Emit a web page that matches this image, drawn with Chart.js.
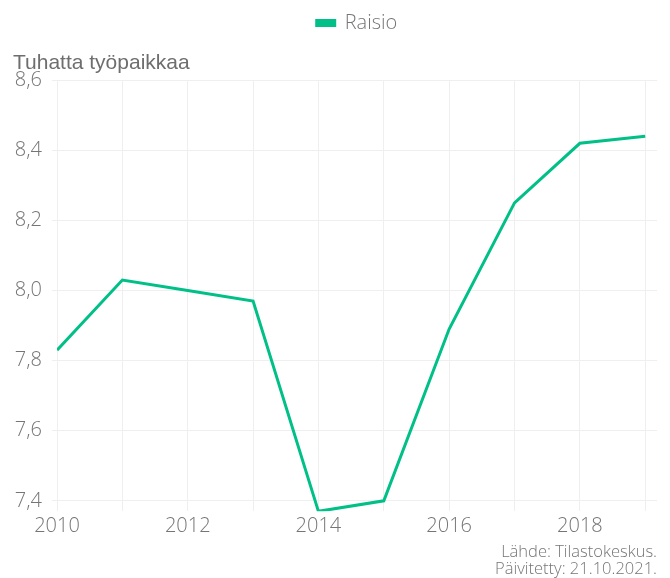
<!DOCTYPE html>
<html>
<head>
<meta charset="utf-8">
<script src="https://cdn.jsdelivr.net/npm/chart.js@4"></script>
<style>
html,body{margin:0;padding:0;background:#fff;}
#wrap{width:670px;height:578px;position:relative;}
</style>
</head>
<body>
<div id="wrap"><canvas id="c"></canvas></div>
<script>
const years = [2010, 2011, 2012, 2013, 2014, 2015, 2016, 2017, 2018, 2019];
const raisio = [7.83, 8.03, 8.00, 7.97, 7.37, 7.40, 7.89, 8.25, 8.42, 8.44];
const xTickLabels = ['2010', '', '2012', '', '2014', '', '2016', '', '2018', ''];
const yTicks = [7.4, 7.6, 7.8, 8.0, 8.2, 8.4, 8.6];
const seriesName = 'Raisio';
const yTitle = 'Tuhatta työpaikkaa';
const sourceLines = ['Lähde: Tilastokeskus.', 'Päivitetty: 21.10.2021.'];

const GREEN = '#00c088';
const FONT = "'Open Sans', Lato, sans-serif";

new Chart(document.getElementById('c'), {
  type: 'line',
  data: {
    datasets: [{
      label: seriesName,
      data: years.map((y, i) => ({x: y, y: raisio[i]})),
      borderColor: GREEN,
      backgroundColor: GREEN,
      borderWidth: 3,
      pointRadius: 0,
      tension: 0
    }]
  },
  options: {
    responsive: true,
    maintainAspectRatio: false,
    animation: false,
    layout: {padding: {left: 13, right: 13, top: 3, bottom: 0}},
    plugins: {
      legend: {
        position: 'top',
        fullSize: false,
        weight: 1000,
        labels: {
          boxWidth: 18,
          boxHeight: 5,
          padding: 10,
          color: '#757575',
          font: {family: FONT, size: 20, weight: '300', lineHeight: 1}
        }
      },
      title: {
        display: true,
        text: yTitle,
        align: 'start',
        position: 'top',
        weight: 500,
        color: '#6e6e6e',
        font: {family: "'Liberation Sans', Arial, sans-serif", size: 21, weight: 'normal', lineHeight: 1.2},
        padding: {top: 8, bottom: 4}
      },
      subtitle: {
        display: true,
        text: sourceLines,
        position: 'bottom',
        align: 'end',
        color: '#757575',
        font: {family: FONT, size: 16.5, weight: '300', lineHeight: 1.05},
        padding: {top: 2, bottom: 0}
      },
      tooltip: {enabled: false}
    },
    scales: {
      x: {
        type: 'linear',
        min: years[0],
        max: years[years.length - 1] + 0.18,
        afterBuildTicks: (scale) => { scale.ticks = years.map(v => ({value: v})); },
        grid: {color: '#efefef', drawTicks: false, lineWidth: 1},
        border: {display: false},
        ticks: {
          autoSkip: false,
          maxRotation: 0,
          padding: 4,
          color: '#757575',
          font: {family: FONT, size: 20, weight: '300', lineHeight: 1.1},
          callback: (v) => xTickLabels[years.indexOf(v)] ?? ''
        }
      },
      y: {
        min: Math.min(...raisio),
        max: yTicks[yTicks.length - 1],
        afterBuildTicks: (scale) => { scale.ticks = yTicks.map(v => ({value: v})); },
        afterFit: (scale) => { scale.width = 44; },
        grid: {color: '#efefef', drawTicks: true, tickLength: 5, lineWidth: 1},
        border: {display: false},
        ticks: {
          padding: 10,
          color: '#757575',
          font: {family: FONT, size: 20, weight: '300'},
          callback: (v) => Number(v).toFixed(1).replace('.', ',')
        }
      }
    }
  }
});
</script>
</body>
</html>
